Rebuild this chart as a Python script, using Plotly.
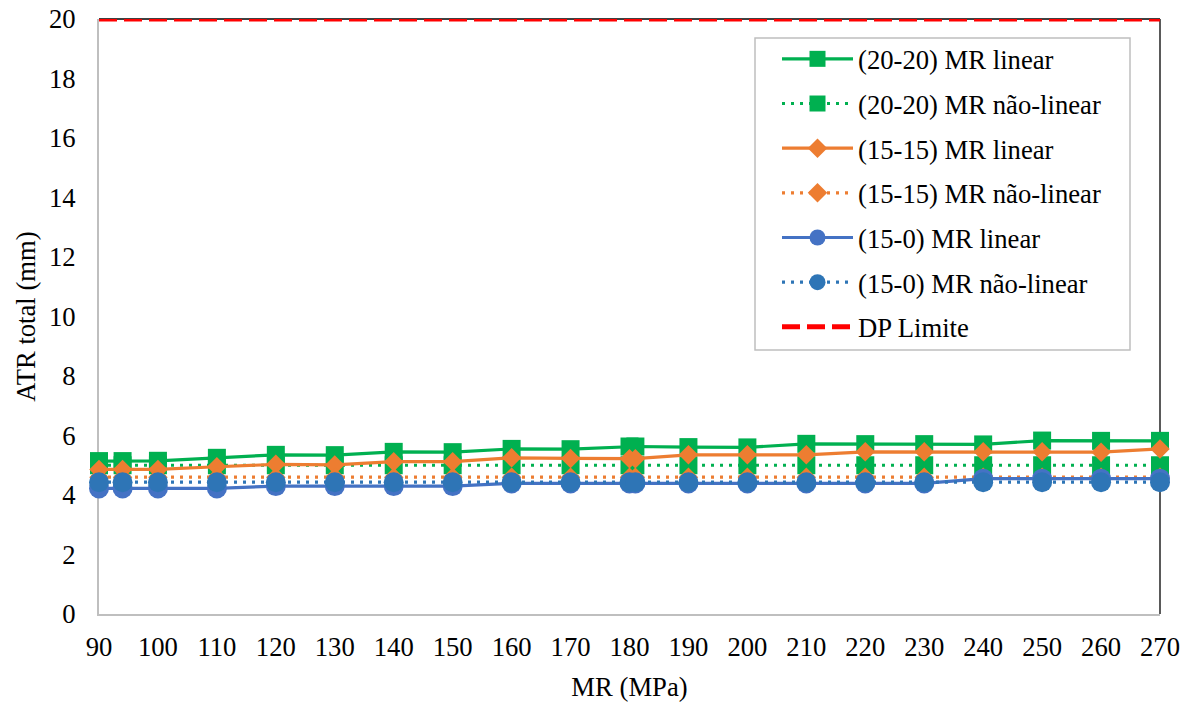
import plotly.graph_objects as go

mr = [90, 94, 100, 110, 120, 130, 140, 150, 160, 170, 180, 181, 190, 200, 210, 220, 230, 240, 250, 260, 270]

g_lin = [5.14, 5.14, 5.15, 5.25, 5.35, 5.34, 5.45, 5.44, 5.55, 5.54, 5.63, 5.63, 5.61, 5.60, 5.72, 5.71, 5.71, 5.70, 5.83, 5.82, 5.82]
g_nl = [5.0] * 21
o_lin = [4.86, 4.86, 4.86, 4.95, 5.03, 5.01, 5.12, 5.12, 5.25, 5.23, 5.22, 5.22, 5.35, 5.35, 5.35, 5.45, 5.45, 5.45, 5.45, 5.44, 5.55]
o_nl = [4.6] * 21
b_lin = [4.22, 4.22, 4.22, 4.22, 4.30, 4.30, 4.30, 4.30, 4.39, 4.39, 4.39, 4.39, 4.39, 4.39, 4.39, 4.39, 4.39, 4.55, 4.55, 4.55, 4.55]
b_nl = [4.43] * 21
dp_x = [90, 270]
dp_y = [20, 20]

names = ["(20-20) MR linear", "(20-20) MR não-linear", "(15-15) MR linear",
         "(15-15) MR não-linear", "(15-0) MR linear", "(15-0) MR não-linear", "DP Limite"]

GREEN = "#00B050"
ORANGE = "#ED7D31"
BLUE1 = "#4472C4"
BLUE2 = "#2E75B6"
RED = "#FF0000"
FONT = "Liberation Serif, Times New Roman, serif"
FS = 26.67

W, H = 1197, 707
L, R, T, B = 99, 37, 19, 93
PW, PH = W - L - R, H - T - B

def px_x(p):
    return (p - L) / PW

def px_y(p):
    return (H - B - p) / PH

fig = go.Figure()

def add(y, name, color, dash, symbol, size, width, grp):
    fig.add_trace(go.Scatter(
        x=mr, y=y, name=name, mode="lines+markers", legendgroup=grp,
        line=dict(color=color, width=width, dash=dash),
        marker=dict(symbol=symbol, size=size, color=color, line=dict(width=0)),
        cliponaxis=False))

add(g_lin, names[0], GREEN, "solid", "square", 18, 3.2, "a")
add(g_nl, names[1], GREEN, "3px,6px", "square", 18, 3.2, "b")
add(o_lin, names[2], ORANGE, "solid", "diamond", 15, 3.2, "c")
add(o_nl, names[3], ORANGE, "3px,6px", "diamond", 15, 3.2, "d")
add(b_lin, names[4], BLUE1, "solid", "circle", 20, 3.2, "e")
add(b_nl, names[5], BLUE2, "3px,6px", "circle", 20, 3.2, "f")

fig.add_trace(go.Scatter(
    x=dp_x, y=dp_y, name=names[6], mode="lines", legendgroup="g",
    line=dict(color=RED, width=5, dash="18px,7px"), cliponaxis=False))

fig.update_layout(
    width=W, height=H,
    margin=dict(l=L, r=R, t=T, b=B),
    paper_bgcolor="white", plot_bgcolor="white",
    font=dict(family=FONT, size=FS, color="black"),
    showlegend=True,
    legend=dict(
        x=px_x(777), y=px_y(35), xanchor="left", yanchor="top",
        bgcolor="rgba(0,0,0,0)", borderwidth=0,
        font=dict(family=FONT, size=FS, color="black"),
        itemwidth=71, tracegroupgap=7, traceorder="grouped"),
    xaxis=dict(
        range=[90, 270], tickmode="array", tickvals=list(range(90, 271, 10)),
        showgrid=False, zeroline=False, showline=True, linecolor="#BFBFBF", linewidth=2,
        ticks="", ticklabelstandoff=8, layer="below traces", automargin=False,
        title=dict(text="MR (MPa)", font=dict(family=FONT, size=FS), standoff=16)),
    yaxis=dict(
        range=[0, 20], tickmode="array", tickvals=list(range(0, 21, 2)),
        showgrid=False, zeroline=False, showline=True, linecolor="#BFBFBF", linewidth=2,
        ticks="", ticklabelstandoff=16, layer="below traces", automargin=False,
        title=dict(text="ATR total (mm)", font=dict(family=FONT, size=FS), standoff=6)),
    shapes=[
        dict(type="rect", xref="paper", yref="paper",
             x0=px_x(755), x1=px_x(1130), y0=px_y(350), y1=px_y(38),
             fillcolor="white", line=dict(color="#BFBFBF", width=1.5), layer="below"),
        dict(type="line", xref="paper", yref="paper", x0=0, x1=1, y0=1, y1=1,
             line=dict(color="black", width=1.3), layer="below"),
        dict(type="line", xref="paper", yref="paper", x0=1, x1=1, y0=0, y1=1,
             line=dict(color="black", width=1.3), layer="below"),
    ],
)

fig.write_html("out.html")
